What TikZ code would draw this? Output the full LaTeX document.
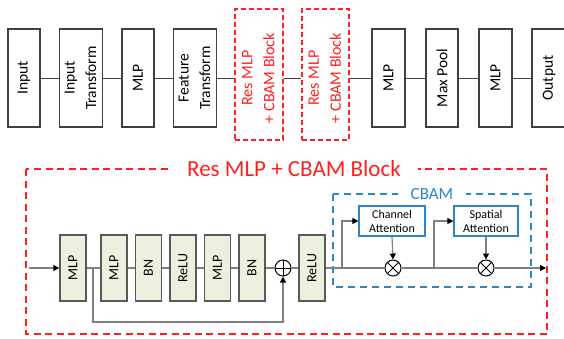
\documentclass[tikz,border=0pt]{standalone}
\usepackage{fontspec}
\setmainfont{Carlito}
\usetikzlibrary{arrows.meta}
\definecolor{myred}{HTML}{FF2020}
\definecolor{myblue}{HTML}{2E86C8}
\definecolor{mygreen}{HTML}{EBF1DE}
\definecolor{mygray}{HTML}{595959}
\definecolor{topgray}{HTML}{404040}
\definecolor{linegray}{HTML}{808080}
\begin{document}
\begin{tikzpicture}[x=1pt,y=-1pt,
 topbox/.style={draw=topgray, line width=1.5pt, fill=white, minimum height=98pt, inner sep=0pt, font=\fontsize{15.5}{21.5}\selectfont},
 redbox/.style={draw=myred, line width=1.4pt, dash pattern=on 5pt off 3pt, minimum height=131pt, inner sep=0pt},
 redtext/.style={text=myred, inner sep=0pt, font=\fontsize{16}{22}\selectfont},
 gbox/.style={draw=mygray, line width=1.4pt, fill=mygreen, minimum width=26pt, minimum height=66pt, inner sep=0pt, font=\fontsize{14}{16}\selectfont},
 topconn/.style={draw=topgray, line width=1pt},
 conn/.style={draw=linegray, line width=1.2pt},
 arr/.style={conn, -{Triangle[length=6pt,width=6pt,color=black]}},
 opplus/.style={circle, draw=black, line width=1pt, minimum size=16pt, inner sep=0pt,
   path picture={\draw[line width=1pt] (path picture bounding box.north) -- (path picture bounding box.south) (path picture bounding box.west) -- (path picture bounding box.east);}},
 optimes/.style={circle, draw=black, line width=1pt, minimum size=16pt, inner sep=0pt,
   path picture={\draw[line width=1pt] ([shift={(45:8pt)}]path picture bounding box.center) -- ([shift={(225:8pt)}]path picture bounding box.center) ([shift={(135:8pt)}]path picture bounding box.center) -- ([shift={(-45:8pt)}]path picture bounding box.center);}},
 attbox/.style={draw=myblue, line width=1.3pt, fill=white, minimum height=30pt, inner sep=0pt, align=center, font=\fontsize{12}{14}\selectfont},
]
\useasboundingbox (0,0) rectangle (564,338);
% ---------- top row ----------
\node[topbox, minimum width=32pt] (in) at (24,78) {\rotatebox{90}{Input}};
\node[topbox, minimum width=40pt] (it) at (81,78) {\rotatebox{90}{\begin{tabular}{@{}c@{}}Input\\Transform\end{tabular}}};
\node[topbox, minimum width=32pt] (m1) at (138,78) {\rotatebox{90}{MLP}};
\node[topbox, minimum width=40pt] (ft) at (195,78) {\rotatebox{90}{\begin{tabular}{@{}c@{}}Feature\\Transform\end{tabular}}};
\node[redbox, minimum width=48pt] (r1) at (259,74.5) {};
\node[redtext] (r1t) at (259,78) {\rotatebox{90}{\begin{tabular}{@{}c@{}}Res MLP\\+ CBAM Block\end{tabular}}};
\node[redbox, minimum width=47pt] (r2) at (325.5,74.5) {};
\node[redtext] (r2t) at (325.5,78) {\rotatebox{90}{\begin{tabular}{@{}c@{}}Res MLP\\+ CBAM Block\end{tabular}}};
\node[topbox, minimum width=33pt] (m2) at (388.5,78) {\rotatebox{90}{MLP}};
\node[topbox, minimum width=32pt] (mp) at (442,78) {\rotatebox{90}{Max Pool}};
\node[topbox, minimum width=33pt] (m3) at (495.5,78) {\rotatebox{90}{MLP}};
\node[topbox, minimum width=34pt] (out) at (549,78) {\rotatebox{90}{Output}};
\draw[topconn] (in.east) -- (it.west);
\draw[topconn] (it.east) -- (m1.west);
\draw[topconn] (m1.east) -- (ft.west);
\draw[topconn] (ft.east) -- (r1.west |- ft.east);
\draw[topconn] (r1.east |- ft.east) -- (r2.west |- ft.east);
\draw[topconn] (r2.east |- ft.east) -- (m2.west);
\draw[topconn] (m2.east) -- (mp.west);
\draw[topconn] (mp.east) -- (m3.west);
\draw[topconn] (m3.east) -- (out.west);
% ---------- bottom block ----------
\draw[myred, line width=2pt, dash pattern=on 7pt off 4.5pt] (26,169) rectangle (547,334);
\node[fill=white, text=myred, inner xsep=17pt, inner ysep=2pt, font=\fontsize{23}{26}\selectfont] (title) at (294,169) {Res MLP + CBAM Block};
\draw[myblue, line width=2pt, dash pattern=on 7pt off 5pt] (333,194) rectangle (531,287);
\node[fill=white, text=myblue, inner xsep=13pt, inner ysep=1pt, font=\fontsize{17}{20}\selectfont] (cbam) at (432,194) {CBAM};

\coordinate (start) at (29,268);
\node[gbox] (g1) at (73,268) {\rotatebox{90}{MLP}};
\node[gbox] (g2) at (114,268) {\rotatebox{90}{MLP}};
\node[gbox] (g3) at (148.5,268) {\rotatebox{90}{BN}};
\node[gbox] (g4) at (183,268) {\rotatebox{90}{ReLU}};
\node[gbox] (g5) at (217.5,268) {\rotatebox{90}{MLP}};
\node[gbox] (g6) at (252,268) {\rotatebox{90}{BN}};
\node[opplus] (add) at (283,268) {};
\node[gbox] (g7) at (312,268) {\rotatebox{90}{ReLU}};
\node[optimes] (mul1) at (393,268) {};
\node[optimes] (mul2) at (486,268) {};
\node[attbox, minimum width=66pt] (ca) at (392,221) {Channel\\Attention};
\node[attbox, minimum width=64pt] (sa) at (486,221) {Spatial\\Attention};
\coordinate (skip) at (93,268);
\coordinate (b1) at (342,268);
\coordinate (b2) at (434,268);
\coordinate (end) at (546,268);

\draw[arr] (start) -- (g1.west);
\draw[conn] (g1.east) -- (g2.west);
\draw[conn] (g2.east) -- (g3.west);
\draw[conn] (g3.east) -- (g4.west);
\draw[conn] (g4.east) -- (g5.west);
\draw[conn] (g5.east) -- (g6.west);
\draw[conn] (g6.east) -- (add.west);
\draw[arr] (skip) -- (93,322) -| (add.south);
\draw[conn] (add.east) -- (g7.west);
\draw[conn] (g7.east) -- (mul1.west);
\draw[conn] (mul1.east) -- (mul2.west);
\draw[arr] (mul2.east) -- (end);
\draw[arr] (b1) |- (ca.west);
\draw[arr] (b2) |- (sa.west);
\draw[arr] (ca.south) -- (mul1.north);
\draw[arr] (sa.south) -- (mul2.north);
\end{tikzpicture}
\end{document}
